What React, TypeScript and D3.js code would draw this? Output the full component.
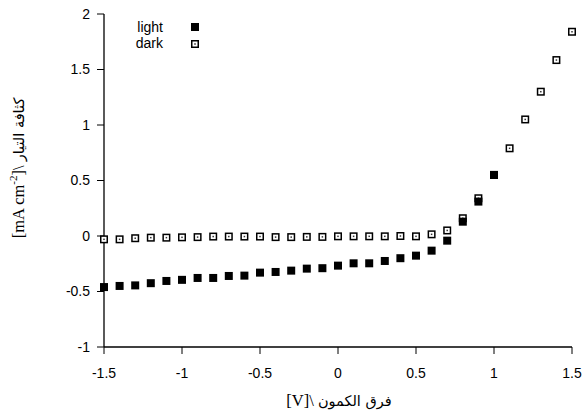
import React from "react";
import * as d3 from "d3";

const voltsLight = [-1.5,-1.4,-1.3,-1.2,-1.1,-1.0,-0.9,-0.8,-0.7,-0.6,-0.5,-0.4,-0.3,-0.2,-0.1,0,0.1,0.2,0.3,0.4,0.5,0.6,0.7,0.8,0.9,1.0];
const currentLight = [-0.46,-0.45,-0.445,-0.425,-0.405,-0.395,-0.378,-0.378,-0.36,-0.357,-0.33,-0.324,-0.312,-0.294,-0.29,-0.267,-0.246,-0.246,-0.225,-0.2,-0.177,-0.132,-0.042,0.129,0.31,0.55];
const voltsDark = [-1.5,-1.4,-1.3,-1.2,-1.1,-1.0,-0.9,-0.8,-0.7,-0.6,-0.5,-0.4,-0.3,-0.2,-0.1,0,0.1,0.2,0.3,0.4,0.5,0.6,0.7,0.8,0.9,1.0,1.1,1.2,1.3,1.4,1.5];
const currentDark = [-0.03,-0.03,-0.02,-0.015,-0.015,-0.012,-0.01,-0.005,-0.005,-0.005,-0.005,-0.01,-0.01,-0.008,-0.008,-0.003,-0.003,-0.003,-0.003,0.0,-0.003,0.015,0.05,0.16,0.34,0.55,0.79,1.05,1.3,1.585,1.84];
const xTicks = [-1.5,-1,-0.5,0,0.5,1,1.5];
const yTicks = [-1,-0.5,0,0.5,1,1.5,2];

const W = 584, H = 418;
const m = { left: 104, right: 12, top: 14, bottom: 71 };

export default function App() {
  const x = d3.scaleLinear().domain([-1.5, 1.5]).range([m.left, W - m.right]);
  const y = d3.scaleLinear().domain([-1, 2]).range([H - m.bottom, m.top]);
  const fmt = (v: number) => String(v);
  const sans = "'Liberation Sans', Arial, sans-serif";
  const y0 = H - m.bottom;
  const S = 8;
  const dark = voltsDark.map((v, i) => ({ v, c: currentDark[i] }));
  const light = voltsLight.map((v, i) => ({ v, c: currentLight[i] }));
  const DarkMark = ({ cx, cy }: { cx: number; cy: number }) => (
    <g>
      <rect x={cx - S / 2 + 0.75} y={cy - S / 2 + 0.75} width={S - 1.5} height={S - 1.5} fill="#fff" stroke="#000" strokeWidth={1.5} />
      <rect x={cx - 0.75} y={cy - 0.75} width={1.5} height={1.5} fill="#333" />
    </g>
  );
  return (
    <svg width={W} height={H} style={{ position: "absolute", left: 0, top: 0, background: "#fff" }}>
      <rect width={W} height={H} fill="#fff" />
      {/* axes */}
      <line x1={m.left} x2={m.left} y1={m.top} y2={y0} stroke="#000" strokeWidth={1.3} />
      <line x1={m.left} x2={W - m.right} y1={y0} y2={y0} stroke="#000" strokeWidth={1.3} />
      {yTicks.map((t) => (
        <g key={"y" + t}>
          <line x1={m.left - 7} x2={m.left} y1={y(t)} y2={y(t)} stroke="#000" strokeWidth={1} />
          <text x={m.left - 14} y={y(t)} dy="0.35em" textAnchor="end" fontFamily={sans} fontSize={14}>{fmt(t)}</text>
        </g>
      ))}
      {xTicks.map((t) => (
        <g key={"x" + t}>
          <line x1={x(t)} x2={x(t)} y1={y0} y2={y0 + 7} stroke="#000" strokeWidth={1} />
          <text x={x(t)} y={y0 + 26} dy="0.35em" textAnchor="middle" fontFamily={sans} fontSize={14}>{fmt(t)}</text>
        </g>
      ))}
      {/* data */}
      {dark.map((d, i) => <DarkMark key={"d" + i} cx={x(d.v)} cy={y(d.c)} />)}
      {light.map((d, i) => (
        <rect key={"l" + i} x={x(d.v) - S / 2} y={y(d.c) - S / 2} width={S} height={S} fill="#000" />
      ))}
      {/* legend */}
      <text x={163} y={27} dy="0.35em" textAnchor="end" fontFamily={sans} fontSize={14}>light</text>
      <rect x={195 - S / 2} y={27 - S / 2} width={S} height={S} fill="#000" />
      <text x={163} y={43} dy="0.35em" textAnchor="end" fontFamily={sans} fontSize={14}>dark</text>
      <DarkMark cx={195} cy={44} />
      {/* axis titles */}
      <text x={339} y={400} dy="0.35em" textAnchor="middle" fontSize={16.5} fontFamily="'Liberation Serif', 'DejaVu Sans', serif" direction="ltr">
        [V]\ <tspan fontFamily="'DejaVu Sans', sans-serif" fontSize={14.5}>فرق الكمون</tspan>
      </text>
      <text transform={`translate(18,168) rotate(-90)`} textAnchor="middle" dy="0.35em" fontSize={16.5} fontFamily="'Liberation Serif', 'DejaVu Sans', serif" direction="ltr">
        [mA cm<tspan dy={-7} fontSize={11}>-2</tspan><tspan dy={7}>]\ </tspan><tspan fontFamily="'DejaVu Sans', sans-serif" fontSize={14.5}>كثافة التيار</tspan>
      </text>
    </svg>
  );
}
